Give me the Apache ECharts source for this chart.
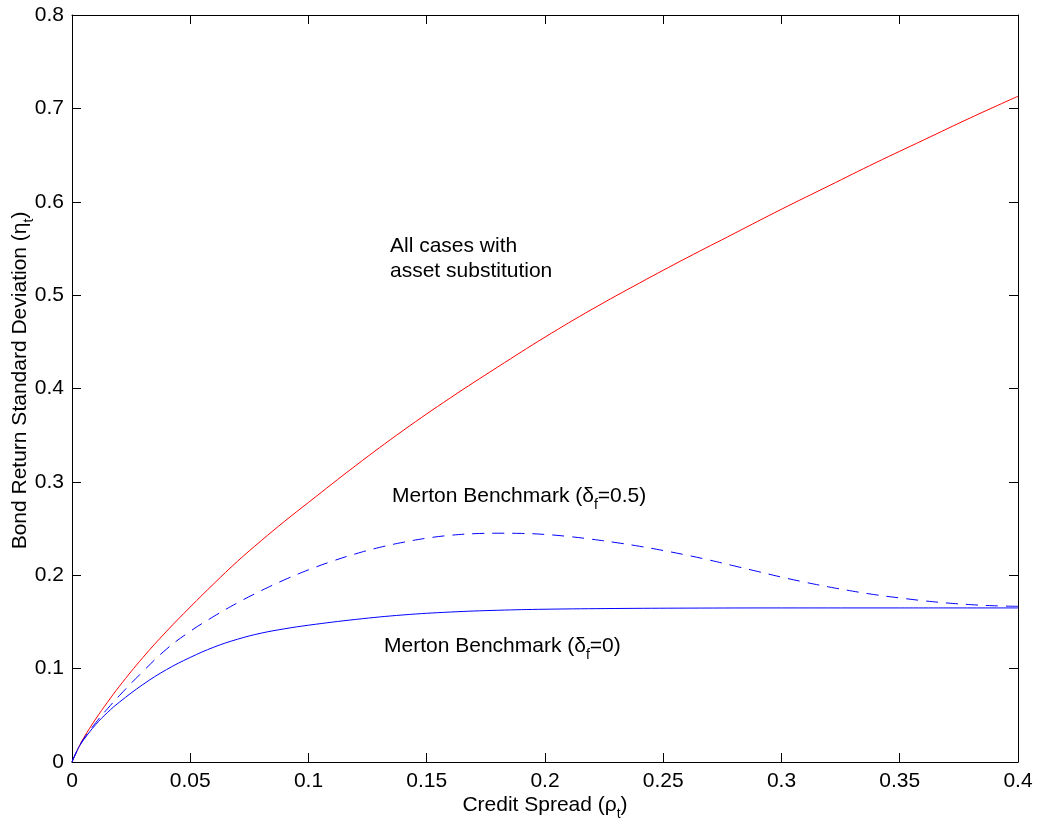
<!DOCTYPE html>
<html>
<head>
<meta charset="utf-8">
<script src="https://cdn.jsdelivr.net/npm/echarts@6.0.0/dist/echarts.min.js"></script>
<style>
  html, body { margin: 0; padding: 0; background: #fff; }
  #chart { width: 1041px; height: 828px; }
</style>
</head>
<body>
<div id="chart"></div>
<script>
// x tick labels / y tick labels
const xTickLabels = ['0', '0.05', '0.1', '0.15', '0.2', '0.25', '0.3', '0.35', '0.4']
const yTickLabels = ['0', '0.1', '0.2', '0.3', '0.4', '0.5', '0.6', '0.7', '0.8']

// asset substitution (red)
const assetX = [0, 0.0025, 0.005, 0.01, 0.015, 0.02, 0.03, 0.04, 0.05, 0.06, 0.07, 0.08, 0.09, 0.1,
  0.12, 0.14, 0.16, 0.18, 0.2, 0.22, 0.24, 0.26, 0.28, 0.3, 0.32, 0.34, 0.36, 0.38, 0.4]
const assetY = [0, 0.014, 0.026, 0.046, 0.064, 0.081, 0.112, 0.140, 0.166, 0.191, 0.215, 0.237, 0.258, 0.278,
  0.3175, 0.355, 0.390, 0.423, 0.455, 0.485, 0.513, 0.540, 0.566, 0.592, 0.617, 0.642, 0.666, 0.690, 0.713]

// Merton benchmark, delta_f = 0.5 (dashed)
const merton05X = [0, 0.0025, 0.005, 0.01, 0.015, 0.02, 0.03, 0.04, 0.05, 0.06, 0.07, 0.08, 0.09, 0.1,
  0.11, 0.12, 0.13, 0.14, 0.15, 0.16, 0.17, 0.18, 0.19, 0.2, 0.21, 0.22, 0.23, 0.24, 0.25, 0.26, 0.27,
  0.28, 0.29, 0.3, 0.31, 0.32, 0.33, 0.34, 0.35, 0.36, 0.37, 0.38, 0.39, 0.4]
const merton05Y = [0, 0.014, 0.025, 0.042, 0.057, 0.071, 0.097, 0.121, 0.140, 0.156, 0.1705, 0.1835, 0.1953, 0.2058,
  0.2150, 0.2230, 0.2298, 0.2353, 0.2397, 0.2428, 0.2445, 0.2450, 0.2448, 0.2437, 0.2415, 0.2385, 0.2350, 0.2310, 0.2265, 0.2215, 0.2160,
  0.2100, 0.2040, 0.1980, 0.1925, 0.1875, 0.1830, 0.1790, 0.1757, 0.1727, 0.1703, 0.1685, 0.1673, 0.1667]

// Merton benchmark, delta_f = 0 (solid blue)
const merton0X = [0, 0.0025, 0.005, 0.01, 0.015, 0.02, 0.03, 0.04, 0.05, 0.06, 0.07, 0.08, 0.09, 0.1,
  0.12, 0.14, 0.16, 0.18, 0.2, 0.23, 0.26, 0.3, 0.35, 0.4]
const merton0Y = [0, 0.014, 0.024, 0.040, 0.053, 0.064, 0.083, 0.099, 0.112, 0.123, 0.1315, 0.138, 0.1427, 0.1465,
  0.1527, 0.1575, 0.1606, 0.1625, 0.1636, 0.1644, 0.1648, 0.165, 0.165, 0.165]

const FONT = '"Liberation Sans", Arial, Helvetica, sans-serif'
const FS = 21
const pairs = (xs, ys) => xs.map((x, i) => [x, ys[i]])

const subRich = {
  sub: { fontSize: 14, fontFamily: FONT, color: '#000', verticalAlign: 'bottom', lineHeight: 32 }
}

const axisCommon = {
  type: 'value',
  axisLine: { show: true, onZero: false, lineStyle: { color: '#000', width: 1 } },
  axisTick: { show: true, inside: true, length: 9, lineStyle: { color: '#000' } },
  splitLine: { show: false }
}

const chart = echarts.init(document.getElementById('chart'))
chart.setOption({
  animation: false,
  backgroundColor: '#fff',
  grid: { left: 72, right: 23, top: 15, bottom: 66, containLabel: false, outerBoundsMode: 'none' },
  xAxis: [
    {
      ...axisCommon,
      min: 0, max: 0.4, interval: 0.05,
      position: 'bottom',
      axisLabel: {
        margin: 9, fontSize: FS, fontFamily: FONT, color: '#000',
        formatter: v => xTickLabels[Math.round(v / 0.05)]
      },
      name: 'Credit Spread (ρ{sub|t})',
      nameLocation: 'middle',
      nameGap: 27,
      nameMoveOverlap: false,
      nameTextStyle: { fontSize: FS, fontFamily: FONT, color: '#000', lineHeight: 26, rich: subRich }
    },
    {
      ...axisCommon,
      min: 0, max: 0.4, interval: 0.05,
      position: 'top',
      axisLabel: { show: false }
    }
  ],
  yAxis: [
    {
      ...axisCommon,
      min: 0, max: 0.8, interval: 0.1,
      position: 'left',
      axisLabel: {
        margin: 8, fontSize: FS, fontFamily: FONT, color: '#000',
        formatter: v => yTickLabels[Math.round(v / 0.1)]
      },
      name: 'Bond Return Standard Deviation (η{sub|t})',
      nameLocation: 'middle',
      nameRotate: 90,
      nameGap: 36,
      nameMoveOverlap: false,
      nameTextStyle: { fontSize: FS, fontFamily: FONT, color: '#000', lineHeight: 26, padding: [0, 0, 0, 16], rich: subRich }
    },
    {
      ...axisCommon,
      min: 0, max: 0.8, interval: 0.1,
      position: 'right',
      axisLabel: { show: false }
    }
  ],
  series: [
    {
      type: 'line', name: 'asset substitution',
      data: pairs(assetX, assetY),
      smooth: 0.4, showSymbol: false,
      lineStyle: { color: '#ff0000', width: 1 }
    },
    {
      type: 'line', name: 'Merton 0.5',
      data: pairs(merton05X, merton05Y),
      smooth: 0.4, showSymbol: false,
      lineStyle: { color: '#0000ff', width: 1, type: [12, 8] }
    },
    {
      type: 'line', name: 'Merton 0',
      data: pairs(merton0X, merton0Y),
      smooth: 0.4, showSymbol: false,
      lineStyle: { color: '#0000ff', width: 1 }
    }
  ],
  graphic: [
    {
      type: 'text', x: 390, y: 234,
      style: { text: 'All cases with\nasset substitution', fontSize: FS, fontFamily: FONT, fill: '#000', lineHeight: 25 }
    },
    {
      type: 'text', x: 392, y: 480,
      style: {
        text: 'Merton Benchmark (δ{sub|f}=0.5)', fontSize: FS, fontFamily: FONT, fill: '#000', lineHeight: 26,
        rich: { sub: { fontSize: 14, fontFamily: FONT, fill: '#000', verticalAlign: 'bottom', lineHeight: 32 } }
      }
    },
    {
      type: 'text', x: 384, y: 630,
      style: {
        text: 'Merton Benchmark (δ{sub|f}=0)', fontSize: FS, fontFamily: FONT, fill: '#000', lineHeight: 26,
        rich: { sub: { fontSize: 14, fontFamily: FONT, fill: '#000', verticalAlign: 'bottom', lineHeight: 32 } }
      }
    }
  ]
})
</script>
</body>
</html>
